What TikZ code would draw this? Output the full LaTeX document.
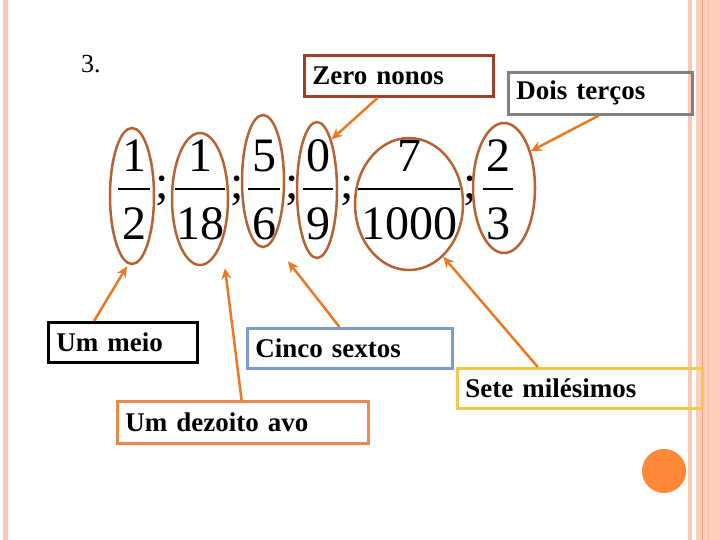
\documentclass[tikz,border=0pt]{standalone}
\usepackage{fontspec}
\setmainfont[WordSpace=0.75]{Liberation Serif}
\usetikzlibrary{shapes.geometric,arrows.meta,calc}
\definecolor{ellbrown}{RGB}{180,100,50}
\definecolor{arrorange}{RGB}{238,119,34}
\definecolor{zerobrd}{RGB}{160,64,43}
\definecolor{doisbrd}{RGB}{128,128,128}
\definecolor{cincobrd}{RGB}{123,155,203}
\definecolor{setebrd}{RGB}{240,201,74}
\definecolor{dezbrd}{RGB}{233,137,75}
\definecolor{dotorange}{RGB}{255,136,56}
\definecolor{pinkA}{RGB}{249,200,182}
\definecolor{pinkB}{RGB}{252,206,188}
\definecolor{pinkLine}{RGB}{238,158,128}
\tikzset{
  ell/.style={ellipse, draw=ellbrown, line width=2.5pt, inner sep=0pt},
  lbox/.style={draw, line width=2.7pt, anchor=north west, inner xsep=8pt, inner ysep=0pt,
    align=left, font=\bfseries\fontsize{27}{27}\selectfont},
  num/.style={anchor=base, inner sep=0pt, font=\fontsize{48}{48}\selectfont},
  semi/.style={anchor=base, inner sep=0pt, font=\fontsize{48}{48}\selectfont},
  fbar/.style={line width=2.5pt},
  pointer/.style={draw=arrorange, line width=2.5pt, -{Stealth[length=11pt,width=10pt]}}
}
\begin{document}
\begin{tikzpicture}[x=1pt,y=-1pt]
\useasboundingbox (0,0) rectangle (720,540);
% page frame
\fill[pinkA] (3,0) rectangle (8,540);
\fill[pinkA] (688,0) rectangle (692,540);
\fill[pinkB] (696,0) rectangle (720,540);
\draw[pinkLine, line width=1pt] (702,0) -- (702,540);
\draw[pinkA!80!pinkLine, line width=0.8pt] (708,0) -- (708,540);
\fill[dotorange] (664,471) circle (22);

\node[anchor=base west, inner sep=0pt, font=\fontsize{26}{26}\selectfont] (lbl) at (81,73) {3.};

% fractions
\node[num] (n1) at (134,172) {1};
\node[num] (d1) at (134,240) {2};
\draw[fbar] (118,189) -- (150,189);
\node[semi] (s1) at (162,199) {;};
\node[num] (n2) at (200,172) {1};
\node[num] (d2) at (200,240) {18};
\draw[fbar] (175,189) -- (225,189);
\node[semi] (s2) at (237,199) {;};
\node[num] (n3) at (264,172) {5};
\node[num] (d3) at (264,240) {6};
\draw[fbar] (248,189) -- (280,189);
\node[semi] (s3) at (292,199) {;};
\node[num] (n4) at (318,172) {0};
\node[num] (d4) at (318,240) {9};
\draw[fbar] (303,189) -- (333,189);
\node[semi] (s4) at (347,199) {;};
\node[num] (n5) at (409,172) {7};
\node[num] (d5) at (409,240) {1000};
\draw[fbar] (358,189) -- (460,189);
\node[semi] (s5) at (470,199) {;};
\node[num] (n6) at (498,172) {2};
\node[num] (d6) at (498,240) {3};
\draw[fbar] (483,189) -- (513,189);

% ellipses
\node[ell, minimum width=44pt, minimum height=136pt] (e1) at (132,196) {};
\node[ell, minimum width=56pt, minimum height=132pt] (e2) at (200,199) {};
\node[ell, minimum width=42pt, minimum height=132pt] (e3) at (263,181) {};
\node[ell, minimum width=40pt, minimum height=136pt] (e4) at (317,190) {};
\node[ell, minimum width=108pt, minimum height=132pt] (e5) at (409,204) {};
\node[ell, minimum width=62pt, minimum height=130pt] (e6) at (504,188) {};

% label boxes
\node[lbox, draw=zerobrd, text width=173pt, minimum height=41pt] (zero) at (303,54) {Zero nonos};
\node[lbox, draw=doisbrd, text width=168pt, minimum height=42pt] (dois) at (507,71) {Dois terços};
\node[lbox, draw=black, text width=133pt, minimum height=40pt] (meio) at (47,321) {Um meio};
\node[lbox, draw=cincobrd, text width=189pt, minimum height=40pt] (cinco) at (246,327) {Cinco sextos};
\node[lbox, draw=setebrd, text width=229pt, minimum height=40pt] (sete) at (456,367) {Sete milésimos};
\node[lbox, draw=dezbrd, text width=235pt, minimum height=42pt] (dez) at (116,400) {Um dezoito avo};

% arrow tips
\coordinate (t1) at ($(e1.south)+(-5,1)$);
\coordinate (t2) at ($(e2.south)+(25,2)$);
\coordinate (t3) at ($(e3.south)+(25,13)$);
\coordinate (t4) at (e4.74);
\coordinate (t5) at (e5.-57);
\coordinate (t6) at (e6.54);

% connectors
\draw[pointer] ($(meio.north west)!0.31!(meio.north east)$) -- (t1);
\draw[pointer] ($(dez.north west)!0.495!(dez.north east)$) -- (t2);
\draw[pointer] ($(cinco.north west)!0.45!(cinco.north east)$) -- (t3);
\draw[pointer] ($(zero.south west)!0.39!(zero.south east)$) -- (t4);
\draw[pointer] ($(sete.north west)!0.33!(sete.north east)$) -- (t5);
\draw[pointer] ($(dois.south west)!0.49!(dois.south east)$) -- (t6);
\end{tikzpicture}
\end{document}
